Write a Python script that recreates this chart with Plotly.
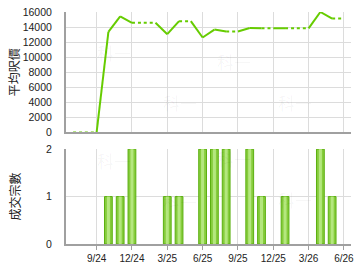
import plotly.graph_objects as go

months = ["7/24", "8/24", "9/24", "10/24", "11/24", "12/24", "1/25", "2/25", "3/25", "4/25",
          "5/25", "6/25", "7/25", "8/25", "9/25", "10/25", "11/25", "12/25", "1/26", "2/26",
          "3/26", "4/26", "5/26", "6/26"]
avg_price = [0, 0, 0, 13350, 15430, 14570, 14570, 14570, 13050, 14780,
             14780, 12610, 13660, 13400, 13400, 13870, 13830, 13830, 13830, 13830,
             13830, 16000, 15130, 15130]
deal_count = [0, 0, 0, 1, 1, 2, 0, 0, 1, 1,
              0, 2, 2, 2, 0, 2, 1, 0, 1, 0,
              0, 2, 1, 0]
tick_labels = ["9/24", "12/24", "3/25", "6/25", "9/25", "12/25", "3/26", "6/26"]
price_ticks = [0, 2000, 4000, 6000, 8000, 10000, 12000, 14000, 16000]
count_ticks = [0, 1, 2]

xs = list(range(len(months)))
tickvals = [months.index(t) for t in tick_labels]

LINE = "#66cc00"
FONT = "Liberation Sans, Arial, sans-serif"
CJK = "Noto Sans CJK TC, sans-serif"

# split line into solid (segment ends in month with deals) and dotted segments
sx, sy, dx, dy = [], [], [], []
for i in range(1, len(xs)):
    if deal_count[i] > 0:
        sx += [xs[i - 1], xs[i], None]
        sy += [avg_price[i - 1], avg_price[i], None]
    else:
        dx += [xs[i - 1], xs[i], None]
        dy += [avg_price[i - 1], avg_price[i], None]

bar_y = [c if c > 0 else None for c in deal_count]

fig = go.Figure()
fig.add_trace(go.Scatter(x=dx, y=dy, mode="lines", line=dict(color=LINE, width=2, dash="dot"),
                         xaxis="x", yaxis="y", cliponaxis=False, hoverinfo="skip"))
fig.add_trace(go.Scatter(x=sx, y=sy, mode="lines", line=dict(color=LINE, width=2),
                         xaxis="x", yaxis="y", cliponaxis=False, hoverinfo="skip"))
fig.add_trace(go.Bar(x=xs, y=bar_y, width=0.66, xaxis="x2", yaxis="y2",
                     marker=dict(color="#86cc3c", line=dict(color="#5cb010", width=1))))
fig.add_trace(go.Bar(x=xs, y=bar_y, width=0.26, xaxis="x2", yaxis="y2",
                     marker=dict(color="#b4e77e", line=dict(width=0))))

xcommon = dict(range=[-0.6, 23.6], tickvals=tickvals, ticktext=tick_labels, showgrid=True,
               gridcolor="#dcdcdc", gridwidth=1, showline=True, linecolor="#a0a0a0", linewidth=2,
               zeroline=False, fixedrange=True)

fig.update_layout(
    width=360, height=270,
    margin=dict(l=66, r=6, t=7, b=26),
    paper_bgcolor="white", plot_bgcolor="white",
    showlegend=False, barmode="overlay",
    font=dict(family=FONT, size=10, color="#222"),
    xaxis=dict(**xcommon, anchor="y", showticklabels=False, ticks=""),
    xaxis2=dict(**xcommon, anchor="y2", showticklabels=True, ticks="outside", ticklen=4,
                tickcolor="#a0a0a0", tickfont=dict(size=10, color="#222")),
    yaxis=dict(domain=[0.481, 1], range=[0, 16000], tickvals=price_ticks,
               ticktext=[str(v) for v in price_ticks], showgrid=True,
               gridcolor="#dcdcdc", showline=True, linecolor="#a0a0a0", linewidth=2,
               zeroline=False, ticks="", ticklabelstandoff=10, tickfont=dict(size=10.5, color="#222")),
    yaxis2=dict(domain=[0, 0.409], range=[0, 2], tickvals=count_ticks,
                ticktext=[str(v) for v in count_ticks], showgrid=True,
                gridcolor="#dcdcdc", showline=True, linecolor="#a0a0a0", linewidth=2,
                zeroline=False, ticks="", ticklabelstandoff=10, tickfont=dict(size=10.5, color="#222")),
)

annotations = [
    dict(text="平均呎價", x=0, y=0.7405, xref="paper", yref="paper", xanchor="center", yanchor="middle",
         xshift=-53, textangle=-90, showarrow=False, font=dict(family=CJK, size=12, color="#222")),
    dict(text="成交宗數", x=0, y=0.2045, xref="paper", yref="paper", xanchor="center", yanchor="middle",
         xshift=-51, textangle=-90, showarrow=False, font=dict(family=CJK, size=12, color="#222")),
]
wm = [(0.1, 0.89), (0.4, 0.61), (0.59, 0.85), (0.87, 0.61), (0.1, 0.36), (0.4, 0.12), (0.59, 0.37), (0.87, 0.13)]
for (wx, wy) in wm:
    annotations.append(dict(text="科一", x=wx, y=wy, xref="paper", yref="paper", showarrow=False,
                            font=dict(family=CJK, size=17, color="rgba(0,0,0,0.045)")))
fig.update_layout(annotations=annotations)

fig.write_html("out.html", config={"displayModeBar": False})
